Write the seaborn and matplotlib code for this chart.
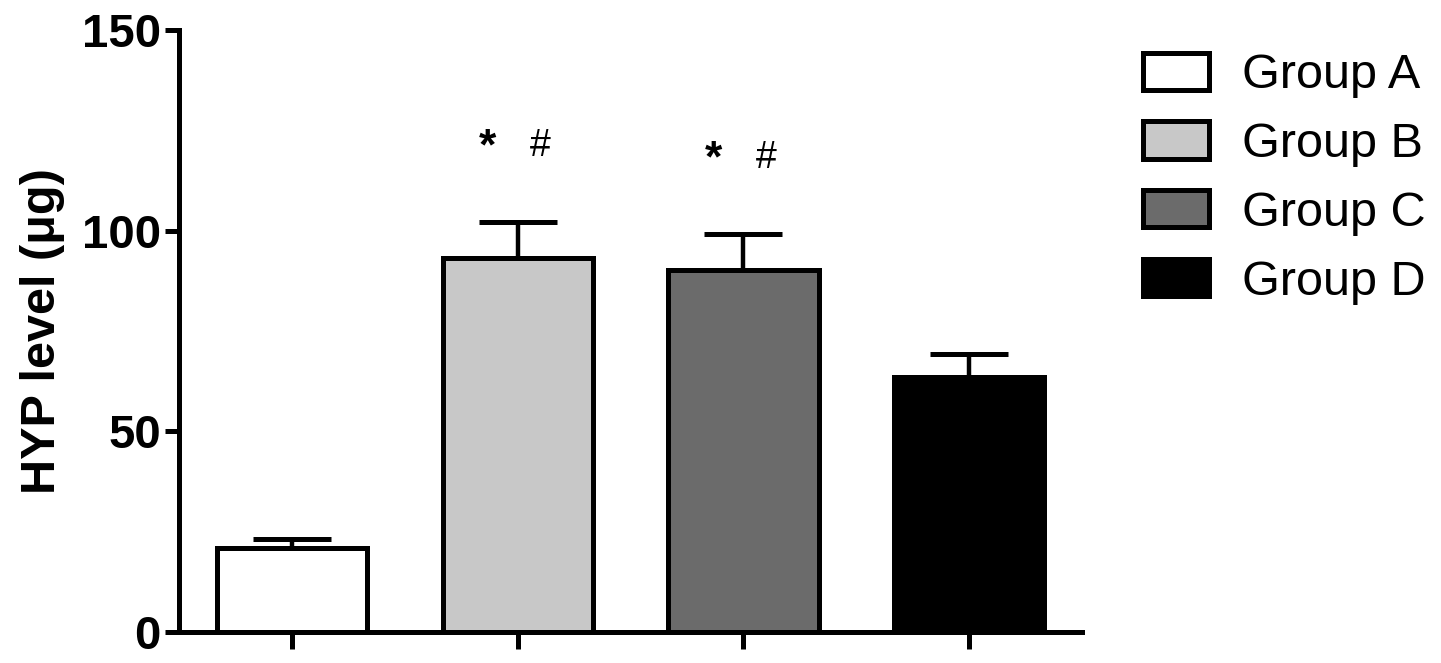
import numpy as np
import pandas as pd
import matplotlib
matplotlib.use("Agg")
import matplotlib.pyplot as plt
import seaborn as sns

# valori
grupuri = ["Group A", "Group B", "Group C", "Group D"]
medii = [20.9, 93.2, 90.2, 63.5]
erori = [2.3, 9.0, 9.0, 5.8]
culori = ["#ffffff", "#c8c8c8", "#6b6b6b", "#000000"]
semne = ["", "*   #", "*   #", ""]

sns.set_style("white")
plt.rcParams["font.family"] = ["Liberation Sans", "DejaVu Sans"]
plt.rcParams["text.color"] = "black"
plt.rcParams["axes.labelcolor"] = "black"
plt.rcParams["xtick.color"] = "black"
plt.rcParams["ytick.color"] = "black"

bd = pd.DataFrame({"grup": grupuri, "HYP": medii, "sem": erori})

fig = plt.figure(figsize=(14.41, 6.63), dpi=100)
ax = fig.add_axes([0.1242, 0.0468, 0.6268, 0.908])

sns.barplot(data=bd, x="grup", y="HYP", hue="grup", palette=culori,
            edgecolor="black", linewidth=3.6, width=0.665, ax=ax,
            legend=False, zorder=3)

# bare de eroare doar in sus
pozitii = [p.get_x() + p.get_width() / 2 for p in ax.patches]
ax.errorbar(pozitii, bd["HYP"], yerr=[np.zeros(len(erori)), bd["sem"]],
            fmt="none", ecolor="black", elinewidth=3.2, capsize=28,
            capthick=3.6, zorder=2)

# semnificatie
for x, m, e, s in zip(pozitii, medii, erori, semne):
    if s:
        y = m + e + 18.5
        ax.text(x - 0.135, y, "*", fontsize=32, fontweight="bold",
                ha="center", va="center")
        ax.text(x + 0.1, y + 0.5, "#", fontsize=27, ha="center", va="center")

ax.set_ylim(0, 150)
ax.set_xlim(-0.5, 3.5)
ax.set_yticks([0, 50, 100, 150])
ax.set_xticks(range(len(grupuri)))
ax.set_xticklabels([])
ax.set_xlabel("")
ax.set_ylabel("HYP level (\u03bcg)", fontsize=35, fontweight="bold", labelpad=12)
ax.tick_params(axis="y", labelsize=34, width=3.6, length=10, direction="out",
               left=True, pad=3)
ax.tick_params(axis="x", width=3.6, length=12, direction="out", bottom=True)
for t in ax.get_yticklabels():
    t.set_fontweight("bold")
sns.despine(ax=ax)
for sp in ["left", "bottom"]:
    ax.spines[sp].set_linewidth(3.6)
    ax.spines[sp].set_color("black")

# legenda
from matplotlib.patches import Patch
handles = [Patch(facecolor=c, edgecolor="black", linewidth=3.6) for c in culori]
fig.legend(handles, grupuri, loc="upper left", bbox_to_anchor=(0.780, 0.95),
           frameon=False, fontsize=35, handlelength=1.35, handleheight=0.8,
           handletextpad=0.68, labelspacing=0.48, borderaxespad=0)

fig.savefig("out.png", dpi=100)
